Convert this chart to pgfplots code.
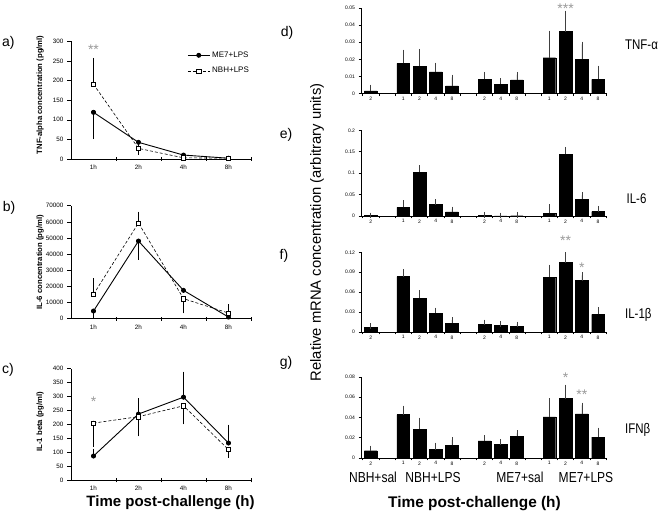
\documentclass[border=0pt]{standalone}
\usepackage{fontspec}
\setmainfont{Liberation Sans}
\usepackage{pgfplots}
\usepackage{pgfplotstable}
\pgfplotsset{compat=1.18}

% Bar data: x = slot, y = value, e = upper error
\pgfplotstableread{
x y e
0 0.0016 0.0021
2 0.0177 0.0064
3 0.0161 0.0084
4 0.0128 0.0037
5 0.0045 0.0050
7 0.0084 0.0027
8 0.0056 0.0018
9 0.0080 0.0031
11 0.0210 0.0142
12 0.0362 0.0107
13 0.0200 0.0088
14 0.0084 0.0064
}\tnfdata
\pgfplotstableread{
x y e
0 0.0010 0.0005
2 0.0203 0.0094
3 0.1023 0.0094
4 0.0266 0.0062
5 0.0094 0.0062
7 0.0008 0.0022
8 0.0005 0.0008
9 0.0006 0.0022
11 0.0063 0.0140
12 0.1438 0.0109
13 0.0390 0.0094
14 0.0102 0.0070
}\ilsixdata
\pgfplotstableread{
x y e
0 0.0065 0.0025
2 0.0833 0.0066
3 0.0507 0.0081
4 0.0286 0.0040
5 0.0131 0.0050
7 0.0115 0.0031
8 0.0100 0.0020
9 0.0085 0.0030
11 0.0828 0.0146
12 0.1044 0.0111
13 0.0773 0.0081
14 0.0266 0.0065
}\ilonedata
\pgfplotstableread{
x y e
0 0.0072 0.0023
2 0.0428 0.0062
3 0.0286 0.0086
4 0.0082 0.0043
5 0.0125 0.0053
7 0.0168 0.0030
8 0.0135 0.0023
9 0.0214 0.0030
11 0.0405 0.0158
12 0.0586 0.0112
13 0.0435 0.0085
14 0.0207 0.0066
}\ifndata

\tikzset{
  ast/.style={font=\fontsize{14}{14}\selectfont, text=gray!80, inner sep=0pt, yshift=-3pt},
  ylab/.style={font=\bfseries\fontsize{7.7}{8}\selectfont, rotate=90, anchor=center},
}

\pgfplotsset{
  /pgf/number format/assume math mode=true,
  common/.style={scale only axis, axis lines=left, axis line style={-, line width=0.6pt},
    enlargelimits=false, clip=false, ymin=0, tick style={black, line width=0.5pt},
    tick align=outside, scaled ticks=false, /pgf/number format/1000 sep={}},
  lp/.style={common, width=180pt, xmin=0.5, xmax=4.5,
    xtick={1.5,2.5,3.5,4.5}, xticklabels={}, xtick align=center,
    extra x ticks={1,2,3,4}, extra x tick labels={1h,2h,4h,8h},
    extra x tick style={major tick length=0pt},
    major tick length=4pt,
    tick label style={font=\fontsize{6.3}{7}\selectfont},
    xticklabel style={yshift=-2.5pt}},
  rp/.style={common, width=246pt, xmin=-0.6, xmax=14.55, ybar, bar width=12.7pt,
    xtick={-0.5,0.5,...,14.5}, xticklabels={},
    extra x ticks={0,2,3,4,5,7,8,9,11,12,13,14},
    extra x tick labels={2,1,2,4,8,2,4,8,1,2,4,8},
    extra x tick style={major tick length=0pt},
    major tick length=2.5pt,
    tick label style={font=\fontsize{5}{6}\selectfont}},
  bars/.style={fill=black, draw=black,
    error bars/y dir=plus, error bars/y explicit,
    error bars/error bar style={line width=0.5pt, black!75},
    error bars/error mark options={line width=0.5pt, black!75, mark size=2.8pt}},
  me7/.style={black, line width=0.9pt, mark=*, mark size=2pt},
  nbh/.style={black, line width=0.6pt, dash pattern=on 3pt off 2pt, mark=square*,
    mark options={solid, fill=white, line width=0.5pt}, mark size=2.1pt},
  eb/.style={forget plot, only marks, mark=none, black,
    error bars/y explicit,
    error bars/error bar style={line width=0.5pt, black, solid},
    error bars/error mark options={line width=0.5pt, black, solid, mark size=3pt}},
}

\begin{document}
\begin{tikzpicture}
\path[use as bounding box] (0pt,0pt) rectangle (667pt,514pt);

% ---------- panel a ----------
\begin{axis}[lp, at={(71pt,355pt)}, anchor=south west, height=117.7pt,
  ymax=300, ytick={0,50,100,150,200,250,300},
  every axis y label/.style={at={(axis description cs:-0.172,0.545)}, ylab},
  ylabel={TNF-alpha concentration (pg/ml)},
  legend style={at={(axis description cs:0.645,0.93)}, anchor=north west, draw=none, fill=none,
    inner sep=0pt, font=\fontsize{8}{9}\selectfont, row sep=4.5pt},
  legend cell align=left,
  legend image code/.code={\draw[mark repeat=2, mark phase=2, #1] plot coordinates {(0pt,0pt) (11pt,0pt) (22pt,0pt)};}]
\addplot[eb, error bars/y dir=minus] coordinates {(1,119) +- (0,61)};
\addplot[eb, error bars/y dir=plus] coordinates {(1,190.5) +- (0,59.5)};
\addplot[eb, error bars/y dir=both] coordinates {(2,27) +- (0,8)};
\addplot[me7] coordinates {(1,119) (2,42.5) (3,10) (4,2)};
\addlegendentry{ME7+LPS}
\addplot[nbh] coordinates {(1,190.5) (2,27) (3,3) (4,2)};
\addlegendentry{NBH+LPS}
\node[ast] at (axis cs:1,285) {**};
\end{axis}

% ---------- panel b ----------
\begin{axis}[lp, at={(71pt,195.3pt)}, anchor=south west, height=113pt,
  ymax=70000, ytick={0,10000,20000,30000,40000,50000,60000,70000},
  every axis y label/.style={at={(axis description cs:-0.172,0.5)}, ylab},
  ylabel={IL-6 concentration (pg/ml)}]
\addplot[eb, error bars/y dir=minus] coordinates {(1,4750) +- (0,2450) (2,48100) +- (0,9700)};
\addplot[eb, error bars/y dir=plus] coordinates {(1,15100) +- (0,8000) (2,59300) +- (0,5200) (4,3500) +- (0,3500)};
\addplot[eb, error bars/y dir=minus] coordinates {(3,12400) +- (0,7200)};
\addplot[me7] coordinates {(1,4750) (2,48100) (3,17550) (4,1000)};
\addplot[nbh] coordinates {(1,15100) (2,59300) (3,12400) (4,3500)};
\end{axis}

% ---------- panel c ----------
\begin{axis}[lp, at={(71pt,33.7pt)}, anchor=south west, height=111.6pt,
  ymax=400, ytick={0,50,100,150,200,250,300,350,400},
  every axis y label/.style={at={(axis description cs:-0.172,0.525)}, ylab},
  ylabel={IL-1 beta (pg/ml)}]
\addplot[eb, error bars/y dir=plus] coordinates {(1,87) +- (0,15.6) (2,237.5) +- (0,46.5) (3,298) +- (0,81) (4,133.6) +- (0,55)};
\addplot[eb, error bars/y dir=minus] coordinates {(1,205) +- (0,74) (2,228) +- (0,60) (3,267) +- (0,56) (4,110) +- (0,18)};
\addplot[me7] coordinates {(1,87) (2,237.5) (3,298) (4,133.6)};
\addplot[nbh] coordinates {(1,205) (2,228) (3,267) (4,110)};
\node[ast] at (axis cs:1,293) {*};
\end{axis}

% ---------- panel d ----------
\begin{axis}[rp, at={(361pt,420.3pt)}, anchor=south west, height=85.7pt,
  ymax=0.05, ytick={0,0.01,0.02,0.03,0.04,0.05},
  yticklabels={0,0.01,0.02,0.03,0.04,0.05}]
\addplot[bars] table[x=x, y=y, y error=e] {\tnfdata};
\node[ast] at (axis cs:12,0.0515) {***};
\end{axis}

% ---------- panel e ----------
\begin{axis}[rp, at={(361pt,298pt)}, anchor=south west, height=85.7pt,
  ymax=0.2, ytick={0,0.05,0.1,0.15,0.2},
  yticklabels={0,0.05,0.1,0.15,0.2}]
\addplot[bars] table[x=x, y=y, y error=e] {\ilsixdata};
\end{axis}

% ---------- panel f ----------
\begin{axis}[rp, at={(361pt,182pt)}, anchor=south west, height=79.7pt,
  ymax=0.12, ytick={0,0.03,0.06,0.09,0.12},
  yticklabels={0,0.03,0.06,0.09,0.12}]
\addplot[bars] table[x=x, y=y, y error=e] {\ilonedata};
\node[ast] at (axis cs:12,0.1415) {**};
\node[ast] at (axis cs:13,0.101) {*};
\end{axis}

% ---------- panel g ----------
\begin{axis}[rp, at={(361pt,56pt)}, anchor=south west, height=81pt,
  ymax=0.08, ytick={0,0.02,0.04,0.06,0.08},
  yticklabels={0,0.02,0.04,0.06,0.08}]
\addplot[bars] table[x=x, y=y, y error=e] {\ifndata};
\node[ast] at (axis cs:12,0.082) {*};
\node[ast] at (axis cs:13,0.065) {**};
\end{axis}

% ---------- panel letters ----------
\begin{scope}[every node/.style={font=\fontsize{14}{15}\selectfont, inner sep=0pt}]
\node at (8.3pt,470.7pt) {a)};
\node at (9pt,306.5pt) {b)};
\node at (8pt,144.5pt) {c)};
\node at (287pt,481.5pt) {d)};
\node at (286pt,379pt) {e)};
\node at (284pt,258.5pt) {f)};
\node at (286pt,151.5pt) {g)};
\end{scope}

% ---------- gene labels ----------
\begin{scope}[every node/.style={font=\fontsize{14}{15}\selectfont, inner sep=0pt, anchor=base west, xscale=0.82}]
\node at (625pt,464pt) {TNF-α};
\node at (626.5pt,310.7pt) {IL-6};
\node at (625pt,195.7pt) {IL-1β};
\node at (625pt,80.7pt) {IFNβ};
\end{scope}

% ---------- group labels ----------
\begin{scope}[every node/.style={font=\fontsize{14.5}{15}\selectfont, inner sep=0pt, anchor=base, xscale=0.83}]
\node at (373pt,31pt) {NBH+sal};
\node at (433pt,31pt) {NBH+LPS};
\node at (520pt,31pt) {ME7+sal};
\node at (586pt,31pt) {ME7+LPS};
\end{scope}

% ---------- axis titles ----------
\node[font=\fontsize{14.8}{15}\selectfont, rotate=90, inner sep=0pt] at (317pt,281.5pt) {Relative mRNA concentration (arbitrary units)};
\node[font=\bfseries\fontsize{15}{16}\selectfont, inner sep=0pt] at (170.5pt,11pt) {Time post-challenge (h)};
\node[font=\bfseries\fontsize{15.4}{16}\selectfont, inner sep=0pt] at (474.5pt,10pt) {Time post-challenge (h)};
\end{tikzpicture}
\end{document}
